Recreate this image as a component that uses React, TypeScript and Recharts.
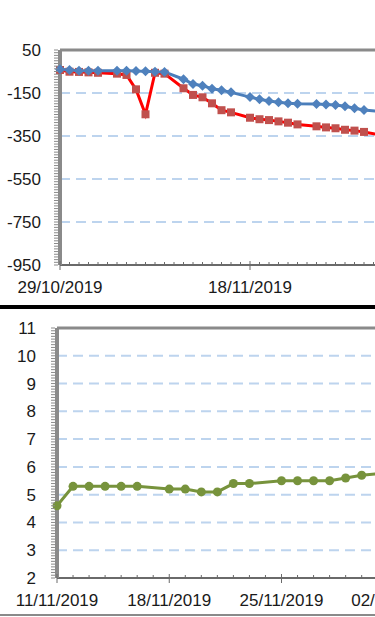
import { Line, LineChart, ReferenceLine, XAxis, YAxis } from "recharts";

// top chart: two series, daily (sundays skipped)
const topDates = [
  "29/10/2019", "30/10/2019", "31/10/2019", "01/11/2019", "02/11/2019",
  "04/11/2019", "05/11/2019", "06/11/2019", "07/11/2019", "08/11/2019", "09/11/2019",
  "11/11/2019", "12/11/2019", "13/11/2019", "14/11/2019", "15/11/2019", "16/11/2019",
  "18/11/2019", "19/11/2019", "20/11/2019", "21/11/2019", "22/11/2019", "23/11/2019",
  "25/11/2019", "26/11/2019", "27/11/2019", "28/11/2019", "29/11/2019", "30/11/2019",
  "02/12/2019",
];
const blueValues = [
  -40, -43, -46, -46, -46,
  -46, -46, -48, -49, -51, -52,
  -86, -108, -116, -130, -137, -147,
  -169, -179, -187, -193, -198, -200,
  -201, -203, -206, -212, -221, -229,
  -237,
];
const redValues = [
  -43, -51, -52, -54, -56,
  -60, -66, -133, -249, -56, -60,
  -128, -159, -170, -198, -230, -240,
  -265, -272, -276, -282, -288, -296,
  -305, -310, -314, -321, -325, -331,
  -348,
];
const topLabelDates = ["29/10/2019", "18/11/2019"];
const topGrid = [-150, -350, -550, -750];

// bottom chart
const bottomDates = [
  "11/11/2019", "12/11/2019", "13/11/2019", "14/11/2019", "15/11/2019", "16/11/2019",
  "18/11/2019", "19/11/2019", "20/11/2019", "21/11/2019", "22/11/2019", "23/11/2019",
  "25/11/2019", "26/11/2019", "27/11/2019", "28/11/2019", "29/11/2019", "30/11/2019",
  "02/12/2019",
];
const greenValues = [
  4.6, 5.3, 5.3, 5.3, 5.3, 5.3,
  5.2, 5.2, 5.1, 5.1, 5.4, 5.4,
  5.5, 5.5, 5.5, 5.5, 5.6, 5.7,
  5.8,
];
const bottomLabelDates = ["11/11/2019", "18/11/2019", "25/11/2019", "02/12/2019"];
const bottomGrid = [10, 9, 8, 7, 6, 5, 4, 3];

const FONT = "'Liberation Sans', Arial, sans-serif";
const AXIS_GRAY = "#8a8a8a";
const GRID = "#bdd4ee";

function toDay(s: string) {
  const [d, m, y] = s.split("/").map(Number);
  return Date.UTC(y, m - 1, d) / 86400000;
}

const topStart = toDay(topDates[0]);
const bottomStart = toDay(bottomDates[0]);

const topRows = topDates.map((d, i) => ({
  day: toDay(d) - topStart,
  blue: blueValues[i],
  red: redValues[i],
}));
const bottomRows = bottomDates.map((d, i) => ({
  day: toDay(d) - bottomStart,
  green: greenValues[i],
}));

const topMajor = topLabelDates.map((d) => toDay(d) - topStart);
const bottomMajor = bottomLabelDates.map((d) => toDay(d) - bottomStart);
const labelOf = (dates: string[], start: number) => (day: number) =>
  dates.find((d) => toDay(d) - start === day) ?? "";

const range = (n: number) => Array.from({ length: n + 1 }, (_, i) => i);

function XTick(props: any) {
  const { x, y, payload, majors, label } = props;
  const major = majors.includes(payload.value);
  return (
    <g>
      <line
        x1={x}
        x2={x}
        y1={major ? y - 4 : y - 3}
        y2={major ? y + 5 : y}
        stroke="#6a6a6a"
        strokeWidth={1}
      />
      {major && (
        <text x={x} y={y + 28} textAnchor="middle" fontSize={17} fill="#1a1a1a" fontFamily={FONT}>
          {label(payload.value)}
        </text>
      )}
    </g>
  );
}

function YTick(props: any) {
  const { x, y, payload, isMajor, offset } = props;
  const major = isMajor(payload.value);
  return (
    <g>
      <line x1={x - 6} x2={x - 2} y1={y} y2={y} stroke={AXIS_GRAY} strokeWidth={1} />
      {major && (
        <text
          x={x - offset}
          y={y}
          dy="0.35em"
          textAnchor="end"
          fontSize={17}
          fill="#1a1a1a"
          fontFamily={FONT}
        >
          {Math.round(payload.value)}
        </text>
      )}
    </g>
  );
}

const Diamond = (props: any) => {
  const { cx, cy, index } = props;
  if (cx == null || cy == null) return <g key={`d${index}`} />;
  return (
    <path
      key={`d${index}`}
      d={`M${cx},${cy - 5}L${cx + 5},${cy}L${cx},${cy + 5}L${cx - 5},${cy}Z`}
      fill="#4f81bd"
    />
  );
};

const Square = (props: any) => {
  const { cx, cy, index } = props;
  if (cx == null || cy == null) return <g key={`s${index}`} />;
  return <rect key={`s${index}`} x={cx - 4} y={cy - 4} width={8} height={8} fill="#c0504d" />;
};

const topYTicks = range(80).map((i) => 50 - i * 12.5);
const bottomYTicks = range(90).map((i) => 2 + i / 10);

export default function App() {
  return (
    <div
      style={{
        position: "fixed",
        left: 0,
        top: 0,
        width: 375,
        height: 617,
        overflow: "hidden",
        background: "#fff",
        fontFamily: FONT,
      }}
    >
      <div style={{ position: "absolute", left: 0, top: 0 }}>
        <LineChart width={450} height={300} data={topRows} margin={{ top: 50, right: 10, bottom: 0, left: 0 }}>
          <XAxis
            dataKey="day"
            type="number"
            domain={[0, 40]}
            ticks={range(40)}
            interval={0}
            tickSize={0}
            tickMargin={0}
            tickLine={false}
            height={35}
            axisLine={{ stroke: "#6a6a6a", strokeWidth: 2 }}
            tick={<XTick majors={topMajor} label={labelOf(topLabelDates, topStart)} />}
          />
          <YAxis
            type="number"
            domain={[-950, 50]}
            ticks={topYTicks}
            interval={0}
            width={60}
            tickSize={0}
            tickMargin={0}
            tickLine={false}
            axisLine={{ stroke: AXIS_GRAY, strokeWidth: 4 }}
            tick={
              <YTick
                offset={19}
                isMajor={(v: number) => Math.abs((v - 50) % 200) < 1e-6}
              />
            }
          />
          {topGrid.map((g) => (
            <ReferenceLine key={g} y={g} stroke={GRID} strokeWidth={2} strokeDasharray="10 6" />
          ))}
          <ReferenceLine y={50} stroke={AXIS_GRAY} strokeWidth={3} />
          <Line
            dataKey="red"
            stroke="#ff0000"
            strokeWidth={3}
            dot={Square}
            activeDot={false}
            isAnimationActive={false}
          />
          <Line
            dataKey="blue"
            stroke="#4a7ebb"
            strokeWidth={3}
            dot={Diamond}
            activeDot={false}
            isAnimationActive={false}
          />
        </LineChart>
      </div>

      <div style={{ position: "absolute", left: 0, top: 305, width: 375, height: 4, background: "#000" }} />

      <div style={{ position: "absolute", left: 0, top: 308 }}>
        <LineChart width={516} height={304} data={bottomRows} margin={{ top: 20, right: 10, bottom: 0, left: 0 }}>
          <XAxis
            dataKey="day"
            type="number"
            domain={[0, 28]}
            ticks={range(28)}
            interval={0}
            tickSize={0}
            tickMargin={0}
            tickLine={false}
            height={34}
            axisLine={{ stroke: "#6a6a6a", strokeWidth: 2 }}
            tick={<XTick majors={bottomMajor} label={labelOf(bottomLabelDates, bottomStart)} />}
          />
          <YAxis
            type="number"
            domain={[2, 11]}
            ticks={bottomYTicks}
            interval={0}
            width={57}
            tickSize={0}
            tickMargin={0}
            tickLine={false}
            axisLine={{ stroke: AXIS_GRAY, strokeWidth: 4 }}
            tick={
              <YTick
                offset={21}
                isMajor={(v: number) => Math.abs(v - Math.round(v)) < 1e-6}
              />
            }
          />
          {bottomGrid.map((g) => (
            <ReferenceLine key={g} y={g} stroke={GRID} strokeWidth={2} strokeDasharray="10 6" />
          ))}
          <ReferenceLine y={11} stroke={AXIS_GRAY} strokeWidth={3} />
          <Line
            dataKey="green"
            stroke="#77933c"
            strokeWidth={3}
            dot={{ r: 4.5, fill: "#77933c", stroke: "#77933c", strokeWidth: 0 }}
            activeDot={false}
            isAnimationActive={false}
          />
        </LineChart>
      </div>

      <div style={{ position: "absolute", left: 0, top: 614, width: 375, height: 2, background: "#8a8a8a" }} />
    </div>
  );
}
